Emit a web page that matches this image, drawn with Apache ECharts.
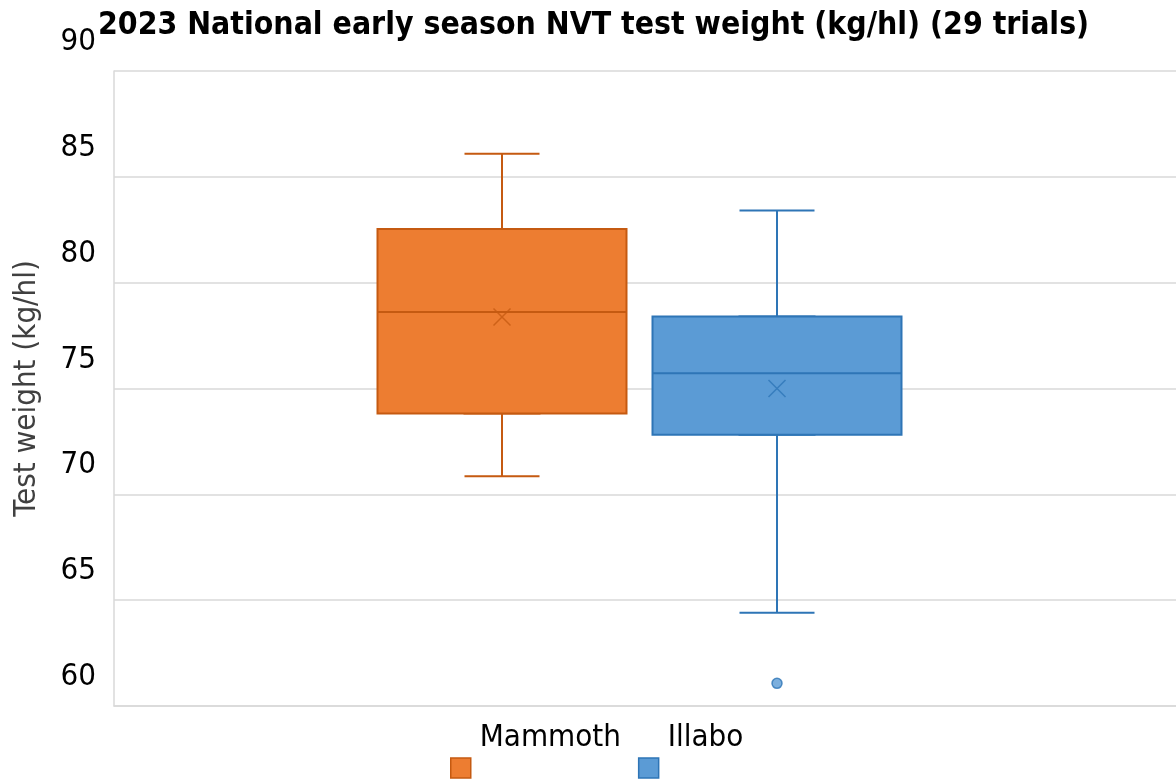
<!DOCTYPE html>
<html>
<head>
<meta charset="utf-8">
<script src="https://cdn.jsdelivr.net/npm/echarts@6/dist/echarts.min.js"></script>
<style>
  html, body { margin: 0; padding: 0; background: #fff; }
  #main { width: 1176px; height: 781px; }
</style>
</head>
<body>
<div id="main"></div>
<script>
// box & whisker stats
const varieties = ['Mammoth', 'Illabo'];
const whiskerLow = [70.86, 64.41];
const q1 = [73.82, 72.81];
const median = [78.61, 75.72];
const q3 = [82.53, 78.40];
const whiskerHigh = [86.09, 83.41];
const means = [78.38, 75.0];
const outliers = [[], [61.07]];

const fills = ['#ED7D31', '#5B9BD5'];
const strokes = ['#C55A11', '#2E75B6'];
const font = '"DejaVu Sans Condensed", "DejaVu Sans", sans-serif';

const chart = echarts.init(document.getElementById('main'));

// main grid + one grid per box (centres 502 / 776)
let grids = [
  {left: 114, right: -2, top: 71, bottom: 75},
  {left: 352, width: 300, top: 71, bottom: 75},
  {left: 627, width: 300, top: 71, bottom: 75}
];
let xAxes = [{
  type: 'category', gridIndex: 0, data: [''],
  axisLine: {show: true, lineStyle: {color: '#D9D9D9', width: 1.5}},
  axisTick: {show: false}, axisLabel: {show: false}
}];
let yAxes = [{
  type: 'value', gridIndex: 0, min: 60, max: 90, interval: 5,
  name: 'Test weight (kg/hl)', nameLocation: 'middle', nameGap: 72,
  nameTextStyle: {fontFamily: font, fontSize: 31, color: '#404040'},
  axisLine: {show: true, lineStyle: {color: '#D9D9D9', width: 1.5}},
  axisTick: {show: false},
  axisLabel: {fontFamily: font, fontSize: 31, color: '#000', margin: 18,
    verticalAlign: 'bottom', lineHeight: 58},
  splitLine: {lineStyle: {color: '#D9D9D9', width: 1.5}}
}];
let series = [];

varieties.forEach((name, i) => {
  let g = i + 1;
  // wide box (axis 2i+1) and narrow whisker box (axis 2i+2)
  xAxes.push({type: 'category', gridIndex: g, data: [name], show: false});
  xAxes.push({type: 'category', gridIndex: g, data: [name], show: false});
  yAxes.push({type: 'value', gridIndex: g, min: 60, max: 90, show: false});

  // whiskers with short caps, drawn underneath
  series.push({
    name: name + ' whiskers',
    type: 'boxplot',
    xAxisIndex: 2 * i + 2, yAxisIndex: g,
    boxWidth: [75, 75],
    itemStyle: {color: fills[i], borderColor: strokes[i], borderWidth: 2},
    data: [[whiskerLow[i], q1[i], median[i], q3[i], whiskerHigh[i]]],
    silent: true
  });
  // the wide box itself
  series.push({
    name: name,
    type: 'boxplot',
    xAxisIndex: 2 * i + 1, yAxisIndex: g,
    boxWidth: [249, 249],
    itemStyle: {color: fills[i], borderColor: strokes[i], borderWidth: 2},
    data: [[q1[i], q1[i], median[i], q3[i], q3[i]]],
    silent: true
  });
  // mean marker
  series.push({
    name: name + ' mean',
    type: 'scatter',
    xAxisIndex: 2 * i + 1, yAxisIndex: g,
    symbol: 'path://M0,0L10,10M10,0L0,10',
    symbolSize: 17,
    itemStyle: {color: 'none', borderColor: strokes[i], borderWidth: 1.5},
    data: [[0, means[i]]],
    silent: true
  });
  if (outliers[i].length) {
    series.push({
      name: name + ' outliers',
      type: 'scatter',
      xAxisIndex: 2 * i + 1, yAxisIndex: g,
      symbol: 'circle',
      symbolSize: 10,
      itemStyle: {color: fills[i], borderColor: strokes[i], borderWidth: 1.5},
      data: outliers[i].map(v => [0, v]),
      silent: true
    });
  }
});

let option = {
  animation: false,
  title: {
    text: '2023 National early season NVT test weight (kg/hl) (29 trials)',
    left: 98, top: 10, padding: 0,
    textStyle: {fontFamily: font, fontSize: 31.7, fontWeight: 'bold', color: '#000'}
  },
  legend: {
    left: 450, top: 708, padding: 0,
    itemWidth: 20, itemHeight: 20, itemGap: 17,
    icon: 'rect',
    selectedMode: false,
    formatter: '{name}\n',
    textStyle: {fontFamily: font, fontSize: 31, color: '#000', lineHeight: 60, padding: [0, 0, 0, 4]},
    data: varieties.map((v, i) => ({
      name: v,
      itemStyle: {color: fills[i], borderColor: strokes[i], borderWidth: 1.5}
    }))
  },
  grid: grids,
  xAxis: xAxes,
  yAxis: yAxes,
  series: series
};

option && chart.setOption(option);
</script>
</body>
</html>
